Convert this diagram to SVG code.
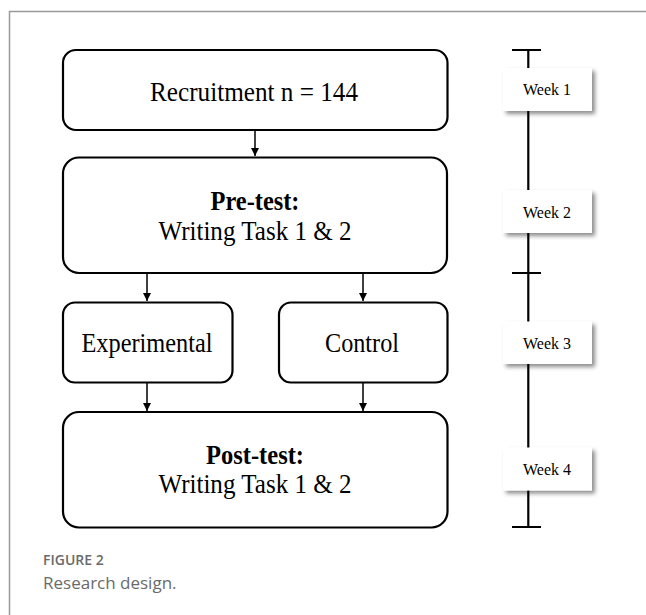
<svg xmlns="http://www.w3.org/2000/svg" width="646" height="615" viewBox="0 0 646 615">
<style>
.box{fill:#fff;stroke:#000;stroke-width:2.2}
.t{font-family:"Liberation Serif","Times New Roman",serif;fill:#000;text-anchor:middle}
.big{font-size:26.5px}
.b{font-weight:bold}
.wk{fill:#fff;stroke:none;filter:url(#sh)}
.wt{font-size:16.5px}
.con{stroke:#000;stroke-width:1.5;fill:none;marker-end:url(#ah)}
.tl{stroke:#000;stroke-width:2.2;fill:none}
.cap{font-family:"Open Sans","Liberation Sans",sans-serif;fill:#6a6a6a}
</style>
<defs>
<marker id="ah" markerWidth="10" markerHeight="10" refX="8" refY="4" orient="auto" markerUnits="userSpaceOnUse">
<path d="M0,0 L8,4 L0,8 Z" fill="#000"/>
</marker>
<filter id="sh" x="-20%" y="-20%" width="150%" height="160%">
<feDropShadow dx="3" dy="3" stdDeviation="2" flood-color="#000" flood-opacity="0.45"/>
</filter>
</defs>
<rect width="646" height="615" fill="#fff"/>
<path d="M9.5,615 V11.5 H646" fill="none" stroke="#9a9a9a" stroke-width="1.5"/>

<g id="connectors">
<line class="con" x1="255" y1="131" x2="255" y2="156"/>
<line class="con" x1="147" y1="274" x2="147" y2="301"/>
<line class="con" x1="363" y1="274" x2="363" y2="301"/>
<line class="con" x1="147" y1="383" x2="147" y2="411"/>
<line class="con" x1="363" y1="383" x2="363" y2="411"/>
</g>

<g id="recruitment">
<rect class="box" x="63" y="50" width="384.5" height="80" rx="13"/>
<text class="t big" x="254" y="101" textLength="208" lengthAdjust="spacingAndGlyphs">Recruitment  n = 144</text>
</g>
<g id="pretest">
<rect class="box" x="63" y="157.5" width="384" height="115.5" rx="16"/>
<text class="t big b" x="255" y="210" textLength="89" lengthAdjust="spacingAndGlyphs">Pre-test:</text>
<text class="t big" x="255" y="240" textLength="193" lengthAdjust="spacingAndGlyphs">Writing Task 1 &amp; 2</text>
</g>
<g id="experimental">
<rect class="box" x="63" y="302.5" width="169.5" height="80" rx="12"/>
<text class="t big" x="147" y="351.5" textLength="131" lengthAdjust="spacingAndGlyphs">Experimental</text>
</g>
<g id="control">
<rect class="box" x="279" y="302.5" width="168.5" height="80" rx="12"/>
<text class="t big" x="362" y="351.5" textLength="74" lengthAdjust="spacingAndGlyphs">Control</text>
</g>
<g id="posttest">
<rect class="box" x="63" y="412" width="384.5" height="115.5" rx="16"/>
<text class="t big b" x="255" y="463.5" textLength="98" lengthAdjust="spacingAndGlyphs">Post-test:</text>
<text class="t big" x="255" y="493" textLength="193" lengthAdjust="spacingAndGlyphs">Writing Task 1 &amp; 2</text>
</g>

<g id="timeline">
<path class="tl" d="M528.3,50 V527 M512,50 H541 M512,273 H541 M512,527 H541"/>
</g>
<g id="week1">
<rect class="wk" x="503" y="68" width="89" height="43"/>
<text class="t wt" x="547" y="95" textLength="48" lengthAdjust="spacingAndGlyphs">Week 1</text>
</g>
<g id="week2">
<rect class="wk" x="503" y="190" width="89" height="43"/>
<text class="t wt" x="547" y="217.5" textLength="48" lengthAdjust="spacingAndGlyphs">Week 2</text>
</g>
<g id="week3">
<rect class="wk" x="503" y="321.5" width="89" height="42.5"/>
<text class="t wt" x="547" y="348.5" textLength="48" lengthAdjust="spacingAndGlyphs">Week 3</text>
</g>
<g id="week4">
<rect class="wk" x="503" y="447.5" width="89" height="43"/>
<text class="t wt" x="547" y="475" textLength="48" lengthAdjust="spacingAndGlyphs">Week 4</text>
</g>

<g id="caption">
<text class="cap" x="43" y="565" font-size="14" font-weight="600">FIGURE 2</text>
<text class="cap" x="43" y="588.5" font-size="17">Research design.</text>
</g>
</svg>
